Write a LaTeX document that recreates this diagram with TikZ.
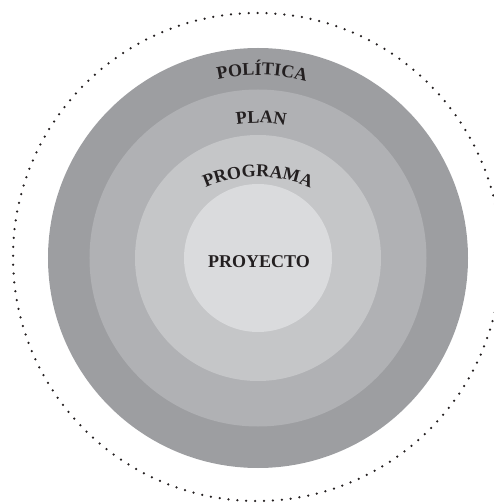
\documentclass[tikz,border=0pt]{standalone}
\usepackage{fontspec}
\setmainfont{Liberation Serif}
\usepackage{tikz}
\usetikzlibrary{decorations.text}

\definecolor{ringPolitica}{HTML}{9D9EA1}
\definecolor{ringPlan}{HTML}{B0B1B4}
\definecolor{ringPrograma}{HTML}{C5C6C8}
\definecolor{ringProyecto}{HTML}{DADBDD}
\definecolor{ink}{HTML}{231F20}
\newcommand{\ringfont}{\fontsize{18}{20}\selectfont\bfseries}

\begin{document}
\begin{tikzpicture}[x=1pt, y=1pt,
  disc/.style={circle, draw=none, inner sep=0pt},
  dotline/.style={ink, line width=2.5pt, line cap=round, dash pattern=on 0pt off 8.9pt}]

\clip (-258,-245) rectangle (236,258);

\coordinate (O) at (0,0);
\coordinate (D) at (-1,1);
\coordinate (P) at (0,-49);

% nested discs
\node[disc, fill=ringPolitica, minimum size=420pt] (politica) at (O) {};
\node[disc, fill=ringPlan,     minimum size=337pt] (plan)     at (O) {};
\node[disc, fill=ringPrograma, minimum size=246pt] (programa) at (O) {};
\node[disc, fill=ringProyecto, minimum size=148pt] (proyecto) at (O) {};

% dotted outer boundary
\draw[dotline] (D) circle (244);

% curved labels
\path[decorate, decoration={text along path, text={|\ringfont\color{ink}|POLÍTICA}, text align=center}]
  (O) ++(123.7:183) arc (123.7:53.7:183);
\path[decorate, decoration={text along path, text={|\ringfont\color{ink}|PLAN}, text align=center}]
  (O) ++(118.7:135) arc (118.7:58.7:135);
\path[decorate, decoration={text along path, text={|\ringfont\color{ink}|PROGRAMA}, text align=center}]
  (P) ++(140:130) arc (140:40:130);

\node[anchor=base, font=\ringfont, text=ink] (lblproyecto) at (1,-10) {PROYECTO};
\end{tikzpicture}
\end{document}
